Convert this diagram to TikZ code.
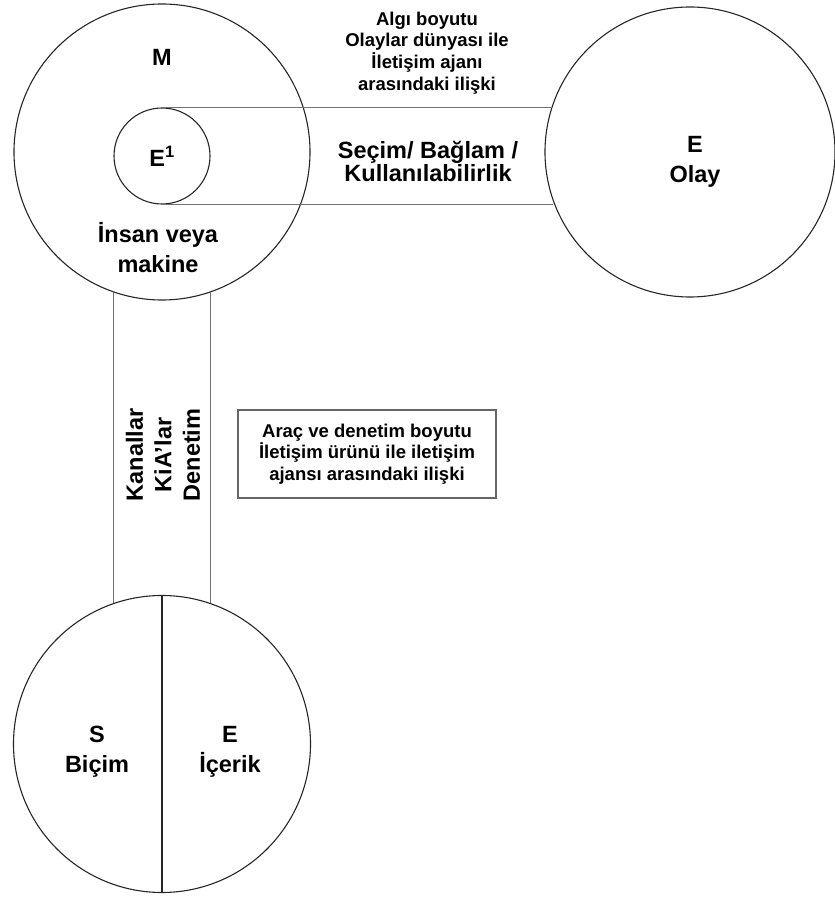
\documentclass[tikz,border=0pt]{standalone}
\usepackage{fontspec}
\setmainfont{Liberation Sans}
\begin{document}
\begin{tikzpicture}[x=1pt, y=1pt,
        ring/.style={circle, draw=black!85, line width=1.1pt, inner sep=0pt},
        big/.style={font=\bfseries\fontsize{23.5}{30}\selectfont, align=center},
        small/.style={font=\bfseries\fontsize{18.5}{21.7}\selectfont, align=center},
        band/.style={draw=black!55, line width=1.3pt}]
        \useasboundingbox (0,0) rectangle (835,898);

        % Nodes
        \node (agent) [ring, minimum size=296pt] at (162, 746) {};
        \node (eone) [ring, big, minimum size=96pt] at (162, 742) {E\textsuperscript{1}};
        \node (olay) [ring, minimum size=290pt] at (690, 746) {};
        \node (urun) [ring, minimum size=297pt] at (162, 154) {};
        \node (mlab) [big] at (162, 841) {M};
        \node (insan) [big] at (158, 650) {İnsan veya\\makine};
        \node (algi) [small] at (427, 845) {Algı boyutu\\Olaylar dünyası ile\\İletişim ajanı\\arasındaki ilişki};
        \node (secim) [big, font=\bfseries\fontsize{23.5}{22}\selectfont] at (428, 737) {Seçim/ Bağlam /\\Kullanılabilirlik};
        \node (olaylab) [big] at (695, 736) {E\\Olay};
        \node (kanal) [big, rotate=90, font=\bfseries\fontsize{23.5}{28.5}\selectfont] at (163, 443) {Kanallar\\KiA’lar\\Denetim};
        \node (arac) [small, draw=black!60, line width=1.2pt, minimum width=258pt, minimum height=88pt] at (367, 444) {Araç ve denetim boyutu\\İletişim ürünü ile iletişim\\ajansı arasındaki ilişki};
        \node (bicim) [big] at (97, 146) {S\\Biçim};
        \node (icerik) [big] at (230, 146) {E\\İçerik};

        % Edges
        \draw[band] (eone.north) -- (eone.north -| olay.162.4);  % top edge of the M--E band
        \draw[band] (eone.south) -- (eone.south -| olay.200.9);
        \draw[band] (agent.251) -- (agent.251 |- urun.109);  % left edge of the vertical band
        \draw[band] (agent.289) -- (agent.289 |- urun.71);
        \draw[draw=black!85, line width=1.1pt] (urun.north) -- (urun.south);
    \end{tikzpicture}
\end{document}
